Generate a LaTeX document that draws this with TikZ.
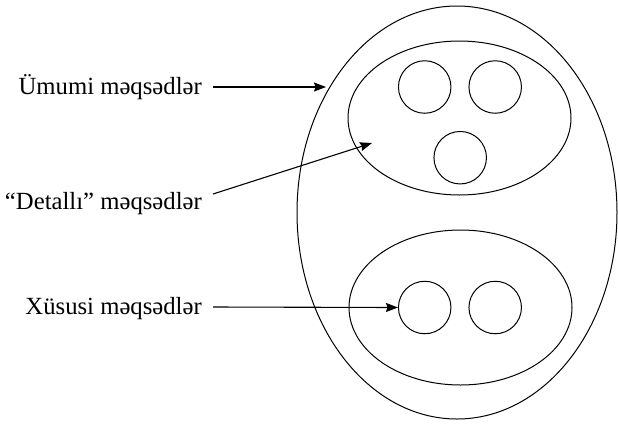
\documentclass[tikz,border=0pt]{standalone}
\usepackage{fontspec}
\setmainfont{Liberation Serif}
\usetikzlibrary{shapes.geometric,arrows.meta}
\begin{document}
\begin{tikzpicture}[x=1pt,y=-1pt,
  ring/.style={draw, ellipse, line width=1pt, inner sep=0pt},
  dot/.style={draw, circle, line width=1pt, inner sep=0pt, minimum size=52.5pt},
  lab/.style={anchor=base east, inner sep=0pt, font=\fontsize{24.7}{29}\selectfont, text=black},
  pointer/.style={-{Stealth[length=12pt,width=9pt,inset=1.5pt]}, line width=1.1pt}]
\useasboundingbox (0,0) rectangle (618,424);
\node[ring, minimum width=320pt, minimum height=413pt] (outer) at (457,212.5) {};
\node[ring, minimum width=223pt, minimum height=154pt] (top) at (459.5,118) {};
\node[ring, minimum width=223pt, minimum height=155pt] (bot) at (460.5,307.5) {};
\node[dot] (c1) at (424.7,87) {};
\node[dot] (c2) at (495.2,87) {};
\node[dot] (c3) at (460.2,157.7) {};
\node[dot] (c4) at (424.7,307.5) {};
\node[dot] (c5) at (495.2,307.5) {};
\node[lab] (l1) at (202,94.5) {Ümumi məqsədlər};
\node[lab] (l2) at (202,209.5) {“Detallı” məqsədlər};
\node[lab] (l3) at (202,314.5) {Xüsusi məqsədlər};
\coordinate (t1) at (326,87);
\coordinate (t2) at (372,143);
\draw[pointer] ([xshift=11pt,yshift=7.5pt]l1.base east) -- (t1);
\draw[pointer] ([xshift=11pt,yshift=15.5pt]l2.base east) -- (t2);
\draw[pointer] ([xshift=11pt,yshift=7.5pt]l3.base east) -- (c4.west);
\end{tikzpicture}
\end{document}
